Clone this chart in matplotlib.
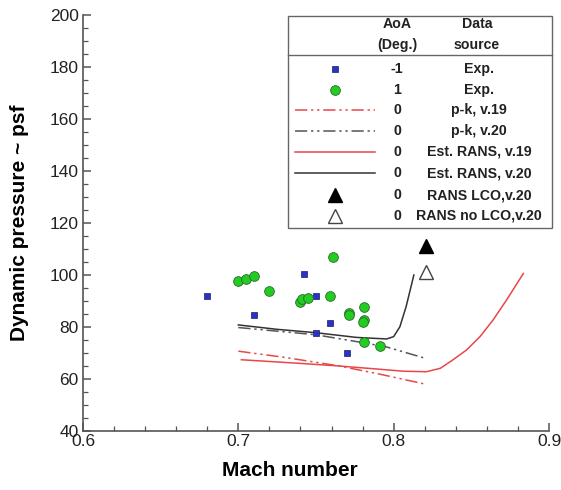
import matplotlib
matplotlib.use("Agg")
import matplotlib.pyplot as plt
from matplotlib.lines import Line2D
from matplotlib.patches import Rectangle
from matplotlib.ticker import MultipleLocator, FuncFormatter

plt.rcParams['font.family'] = ['Liberation Sans', 'DejaVu Sans']

# ---- data ----
exp_m1_mach = [0.680, 0.742, 0.750, 0.710, 0.759, 0.750, 0.770, 0.780, 0.781]
exp_m1_q    = [91.8, 100.4, 91.8, 84.7, 81.5, 77.7, 70.1, 81.8, 74.6]

exp_p1_mach = [0.700, 0.705, 0.710, 0.720, 0.761, 0.740, 0.741, 0.745, 0.759,
               0.771, 0.771, 0.781, 0.781, 0.780, 0.781, 0.791]
exp_p1_q    = [97.6, 98.5, 99.6, 93.7, 106.8, 89.6, 90.6, 91.2, 91.8,
               85.3, 84.5, 87.6, 82.7, 81.9, 74.4, 72.7]

pk19_mach = [0.700, 0.730, 0.765, 0.790, 0.819]
pk19_q    = [70.7, 68.3, 65.0, 62.0, 58.2]

pk20_mach = [0.700, 0.750, 0.775, 0.795, 0.819]
pk20_q    = [79.8, 77.0, 74.5, 72.4, 68.2]

rans19_mach = [0.702, 0.740, 0.765, 0.790, 0.806, 0.821, 0.830, 0.838, 0.847,
               0.8556, 0.864, 0.8727, 0.8835]
rans19_q    = [67.4, 66.0, 65.0, 63.8, 63.0, 62.8, 64.1, 67.3, 71.2,
               76.3, 82.7, 90.4, 100.6]

rans20_mach = [0.700, 0.725, 0.750, 0.776, 0.7955, 0.800, 0.804, 0.808, 0.813]
rans20_q    = [80.8, 79.1, 77.8, 76.0, 75.4, 76.3, 80.1, 87.8, 100.0]

lco_mach, lco_q = [0.821], [111.0]
nolco_mach, nolco_q = [0.821], [101.0]

aoa_labels = ['-1', '1', '0', '0', '0', '0', '0', '0']
src_labels = ['Exp.', 'Exp.', 'p-k, v.19', 'p-k, v.20', 'Est. RANS, v.19',
              'Est. RANS, v.20', 'RANS LCO,v.20', 'RANS no LCO,v.20']

# ---- styles ----
RED = '#e8474a'
GRAY = '#555555'
DARK = '#333333'
BLUE = '#2a33c8'
GREEN = '#22cc22'
dashdotdot = (0, (8, 2.5, 1.5, 2.5, 1.5, 2.5))

fig = plt.figure(figsize=(5.61, 4.90), dpi=100)
ax = fig.add_axes([83/561, 1-431/490, (549-83)/561, (431-15)/490])

ax.plot(pk19_mach, pk19_q, color=RED, lw=1.1, ls=dashdotdot)
ax.plot(pk20_mach, pk20_q, color=GRAY, lw=1.1, ls=dashdotdot)
ax.plot(rans19_mach, rans19_q, color=RED, lw=1.1)
ax.plot(rans20_mach, rans20_q, color=DARK, lw=1.1)
ax.plot(exp_m1_mach, exp_m1_q, ls='none', marker='s', ms=4.5, mfc=BLUE, mec='#1a1a6a', mew=0.5)
ax.plot(exp_p1_mach, exp_p1_q, ls='none', marker='o', ms=7, mfc=GREEN, mec='#2a6a2a', mew=0.6)
ax.plot(lco_mach, lco_q, ls='none', marker='^', ms=10, mfc='black', mec='black')
ax.plot(nolco_mach, nolco_q, ls='none', marker='^', ms=10, mfc='white', mec='#444444', mew=1.0)

ax.set_xlim(0.6, 0.9)
ax.set_ylim(40, 200)
ax.xaxis.set_major_locator(MultipleLocator(0.1))
ax.xaxis.set_minor_locator(MultipleLocator(0.02))
ax.yaxis.set_major_locator(MultipleLocator(20))
ax.yaxis.set_minor_locator(MultipleLocator(5))
ax.xaxis.set_major_formatter(FuncFormatter(lambda v, p: f"{v:.1f}"))
ax.yaxis.set_major_formatter(FuncFormatter(lambda v, p: f"{v:.0f}"))
for s in ['top', 'right']:
    ax.spines[s].set_visible(False)
for s in ['left', 'bottom']:
    ax.spines[s].set_color(GRAY)
    ax.spines[s].set_linewidth(1.2)
ax.tick_params(which='both', direction='in', color=GRAY, labelsize=12.5, labelcolor='#222222')
ax.tick_params(which='major', length=6, width=1.1)
ax.tick_params(which='minor', length=3.5, width=0.9)
ax.tick_params(axis='x', pad=2)
ax.tick_params(axis='y', pad=3)

fig.text(290/561, 1-470/490, 'Mach number', ha='center', va='center', fontsize=15, fontweight='bold')
fig.text(20/561, 1-223/490, 'Dynamic pressure ~ psf', ha='center', va='center', rotation=90,
         fontsize=15, fontweight='bold')

# ---- legend table ----
def fx(px): return px/561
def fy(py): return 1 - py/490

fig.add_artist(Rectangle((fx(288), fy(228)), fx(552)-fx(288), fy(16)-fy(228),
                         transform=fig.transFigure, fill=True, facecolor='white',
                         edgecolor='#666666', lw=1.0, zorder=5))
fig.add_artist(Line2D([fx(288), fx(552)], [fy(55), fy(55)], transform=fig.transFigure,
                      color='#666666', lw=1.0, zorder=6))

row_y = [69, 90, 110, 131, 152, 173, 195, 216]
tkw = dict(transform=fig.transFigure, fontsize=10.2, fontweight='bold', ha='center', va='center',
           zorder=7, color='#222222')
fig.text(fx(397), fy(24), 'AoA', **tkw)
fig.text(fx(397), fy(45), '(Deg.)', **tkw)
fig.text(fx(477), fy(24), 'Data', **tkw)
fig.text(fx(477), fy(45), 'source', **tkw)
for a, s, y in zip(aoa_labels, src_labels, row_y):
    fig.text(fx(397), fy(y), a, **tkw)
    fig.text(fx(479), fy(y), s, **tkw)

sym_x = fx(335)
lkw = dict(transform=fig.transFigure, zorder=7)
fig.add_artist(Line2D([sym_x], [fy(row_y[0])], ls='none', marker='s', ms=4.5, mfc=BLUE, mec='#1a1a6a', mew=0.5, **lkw))
fig.add_artist(Line2D([sym_x], [fy(row_y[1])], ls='none', marker='o', ms=7, mfc=GREEN, mec='#2a6a2a', mew=0.6, **lkw))
for y, c, ls in [(row_y[2], RED, dashdotdot), (row_y[3], GRAY, dashdotdot),
                 (row_y[4], RED, '-'), (row_y[5], DARK, '-')]:
    fig.add_artist(Line2D([fx(295), fx(375)], [fy(y), fy(y)], color=c, ls=ls, lw=1.1, **lkw))
fig.add_artist(Line2D([sym_x], [fy(row_y[6])], ls='none', marker='^', ms=10, mfc='black', mec='black', **lkw))
fig.add_artist(Line2D([sym_x], [fy(row_y[7])], ls='none', marker='^', ms=10, mfc='white', mec='#444444', mew=1.0, **lkw))

fig.savefig('out.png', dpi=100, facecolor='white')
